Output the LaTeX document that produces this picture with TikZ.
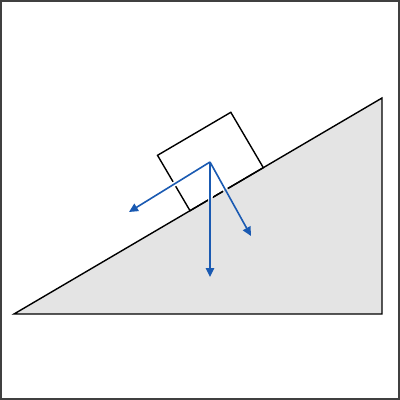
\documentclass[tikz,border=0pt]{standalone}
\usetikzlibrary{arrows.meta,calc}
\definecolor{incl}{HTML}{E4E4E4}
\definecolor{force}{HTML}{1A5AB2}
\begin{document}
\begin{tikzpicture}[x=1pt,y=-1pt,line join=miter,
  frame/.style={draw=black!75,line width=1.2pt},
  edge/.style={draw=black,line width=1.4pt},
  halo/.style={line width=5pt,shorten >=6pt},
  forcearrow/.style={draw=force,line width=1.6pt,-{Triangle[length=9pt,width=8.5pt]}}]
\useasboundingbox (0,0) rectangle (400,400);
\draw[frame] (1,1) rectangle (399,399);
\coordinate (A) at (14,314);
\coordinate (B) at (382,314);
\coordinate (C) at (382,98);
\filldraw[fill=incl,edge] (A) -- (B) -- (C) -- cycle;
\coordinate (P4) at ($(A)!0.4783!(C)$);
\coordinate (P3) at ($(A)!0.6775!(C)$);
\coordinate (P1) at ($(P4)!64.2pt!90:(P3)$);
\coordinate (P2) at ($(P3)!64.2pt!-90:(P4)$);
\draw[edge] (P1) -- (P2) -- (P3) -- (P4) -- cycle;
\coordinate (O) at (210,162);
\coordinate (L) at (129,212);
\coordinate (D) at (210,277);
\coordinate (R) at (251,236);
\begin{scope}
  \clip ($(A)!-1!(C)$) -- ($(C)!-1!(A)$) -- (750,-1000) -- (-400,-1000) -- cycle;
  \foreach \t in {L,D,R} \draw[halo,white] (O) -- (\t);
\end{scope}
\begin{scope}
  \clip (A) -- (B) -- (C) -- cycle;
  \foreach \t in {L,D,R} \draw[halo,incl] (O) -- (\t);
\end{scope}
\draw[forcearrow] (O) -- (L);
\draw[forcearrow] (O) -- (D);
\draw[forcearrow] (O) -- (R);
\end{tikzpicture}
\end{document}
